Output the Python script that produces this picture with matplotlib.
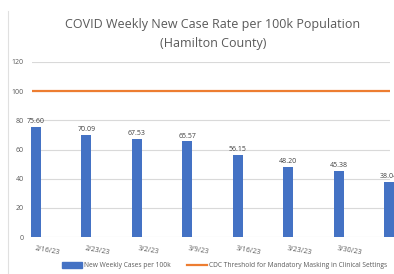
import matplotlib
matplotlib.use('Agg')
import matplotlib.pyplot as plt
from matplotlib.lines import Line2D
from matplotlib.patches import Patch

# data
weeks = ['2/16/23', '2/23/23', '3/2/23', '3/9/23', '3/16/23', '3/23/23', '3/30/23', '4/6/23']
cases = [75.60, 70.09, 67.53, 65.57, 56.15, 48.20, 45.38, 38.04]
threshold = 100
yticks = [0, 20, 40, 60, 80, 100, 120]

blue = '#4472C4'
orange = '#ED7D31'
gray = '#595959'

plt.rcParams['font.family'] = ['Open Sans', 'DejaVu Sans']

fig = plt.figure(figsize=(3.94, 2.74), dpi=100)
ax = fig.add_axes([32 / 394, 37 / 274, 358 / 394, 175 / 274])

x = list(range(len(weeks)))
bars = ax.bar(x, cases, width=0.2, color=blue, zorder=3)
for b in bars:
    b.set_clip_on(False)
ax.axhline(threshold, color=orange, lw=1.6, zorder=3)

for xi, v in zip(x, cases):
    ax.text(xi, v + 1.2, f'{v:.2f}', ha='center', va='bottom', fontsize=5, color='#404040')

ax.set_xlim(-0.08, 7.02)
ax.set_ylim(0, 120)
ax.set_yticks(yticks)
ax.tick_params(axis='y', length=0, labelsize=5, colors=gray, pad=6)
ax.set_xticks([xi + 0.22 for xi in x[:-1]])
ax.set_xticklabels(weeks[:-1], rotation=-10, fontsize=5, color=gray)
ax.tick_params(axis='x', length=0, pad=6)
ax.grid(axis='y', color='#D9D9D9', lw=0.8, zorder=0)
for s in ax.spines.values():
    s.set_visible(False)

fig.text(0.54, 0.875, 'COVID Weekly New Case Rate per 100k Population\n(Hamilton County)',
         ha='center', va='center', fontsize=9, color=gray, linespacing=1.6)

handles = [Patch(color=blue, label='New Weekly Cases per 100k'),
           Line2D([], [], color=orange, lw=1.6,
                  label='CDC Threshold for Mandatory Masking in Clinical Settings')]
fig.legend(handles=handles, loc='center', bbox_to_anchor=(0.57, 0.03), ncol=2,
           frameon=False, fontsize=4.8, handlelength=3, handleheight=0.8,
           columnspacing=2.5, handletextpad=0.2, labelcolor=gray)

fig.add_artist(Line2D([8 / 394, 8 / 394], [0, 0.96], color='#E0E0E0', lw=0.8))

fig.savefig('out.png', dpi=100)
